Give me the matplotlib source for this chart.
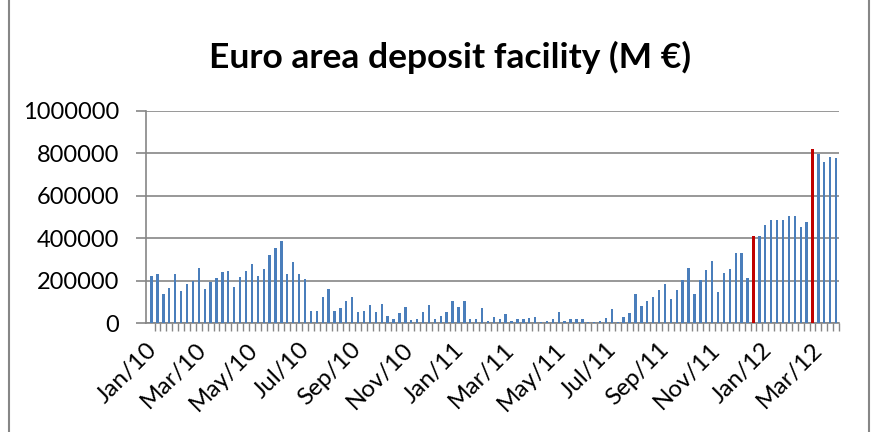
"""Euro area deposit facility, weekly, Jan 2010 - Mar 2012."""

import matplotlib
matplotlib.use("Agg")
import matplotlib.dates as mdates
import matplotlib.pyplot as plt
from matplotlib.patches import Rectangle
import pandas as pd

# weekly values (M EUR)
deposits = [
    224000, 230000, 140000, 164000, 230000, 153000, 187000, 198000, 261000, 159000,
    195000, 211000, 243000, 247000, 169000, 217000, 247000, 279000, 224000,
    256000, 319000, 355000, 386000, 232000, 289000, 232000, 208000, 56000, 60000,
    122000, 160000, 56000, 73000, 103000, 122000, 51000, 60000, 86000, 51000,
    93000, 35000, 22000, 48000, 78000, 16000, 22000, 54000, 85000, 22000,
    35000, 54000, 104000, 78000, 104000, 22000, 22000, 74000, 13000,
    30000, 22000, 42000, 11000, 18000, 18000, 24000, 30000, 6000, 11000,
    22000, 54000, 11000, 18000, 18000, 18000, 6000, 6000, 11000,
    26000, 68000, 8000, 32000, 50000, 136000, 81000, 105000, 123000, 155000,
    186000, 114000, 156000, 203000, 258000, 137000, 203000, 251000, 295000, 148000,
    236000, 253000, 331000, 331000, 212000, 409000, 412000, 464000, 487000, 487000,
    487000, 506000, 506000, 453000, 478000, 819000, 797000, 759000, 784000, 778000,
]
week_dates = pd.date_range("2010-01-08", periods=len(deposits), freq="7D")
# LTRO settlement weeks shown in red
highlight_idx = [102, 112]
month_ticks = pd.date_range("2010-01-01", "2012-03-01", freq="2MS")

plt.rcParams["font.family"] = ["Lato", "DejaVu Sans"]

fig = plt.figure(figsize=(8.75, 4.32), dpi=100)
ax = fig.add_axes([0.1665, 0.2516, 0.7924, 0.4924])

colors = ["#C00000" if i in highlight_idx else "#4A7EBB" for i in range(len(deposits))]
widths = [4.4 if i in highlight_idx else 2.8 for i in range(len(deposits))]
ax.bar(week_dates, deposits, width=widths, color=colors, zorder=3)

ax.set_xlim(pd.Timestamp("2010-01-04"), pd.Timestamp("2012-04-02"))
ax.set_ylim(0, 1000000)
ax.set_yticks(range(0, 1000001, 200000))
ax.yaxis.set_major_formatter(matplotlib.ticker.FuncFormatter(lambda v, p: f"{int(v)}"))
ax.grid(axis="y", color="#868686", linewidth=1.2, zorder=0)

ax.set_xticks(month_ticks)
ax.xaxis.set_major_formatter(mdates.DateFormatter("%b/%y"))
ax.set_xticks(week_dates + pd.Timedelta(days=3.5), minor=True)
ax.tick_params(axis="x", which="major", length=0, pad=11)
ax.tick_params(axis="x", which="minor", length=6, color="#868686", width=1)
ax.tick_params(axis="y", length=7, color="#868686", width=1.2, pad=12, labelsize=17)
for lbl in ax.get_xticklabels():
    lbl.set_rotation(45)
    lbl.set_ha("right")
    lbl.set_rotation_mode("anchor")
    lbl.set_fontsize(17.5)

for side in ["top", "right"]:
    ax.spines[side].set_visible(False)
for side in ["left", "bottom"]:
    ax.spines[side].set_color("#868686")
    ax.spines[side].set_linewidth(1.2)

fig.text(0.514, 0.866, "Euro area deposit facility (M \u20ac)", ha="center", va="center",
         fontsize=25.5, fontweight="bold")

# chart area frame
fig.patches.append(Rectangle((9 / 875, -0.05), 860 / 875, 1.2, transform=fig.transFigure,
                             fill=False, edgecolor="#868686", linewidth=1.5))

fig.savefig("out.png", dpi=100)
